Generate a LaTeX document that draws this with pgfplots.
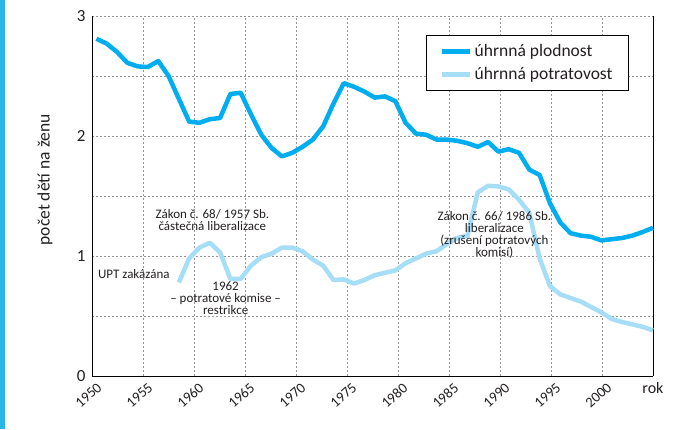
\documentclass[border=0pt]{standalone}
\usepackage{fontspec}
\setmainfont{Carlito}
\usepackage{pgfplots}
\usepackage{pgfplotstable}
\pgfplotsset{compat=1.18}
\definecolor{fert}{RGB}{0,174,239}
\definecolor{abor}{RGB}{166,221,247}
\definecolor{strip}{RGB}{41,182,230}
\definecolor{txt}{RGB}{35,31,32}
\definecolor{gridc}{RGB}{150,150,150}

\pgfplotstableread{
year val
1950 2.81
1951 2.77
1952 2.70
1953 2.61
1954 2.58
1955 2.575
1956 2.625
1957 2.50
1958 2.31
1959 2.12
1960 2.11
1961 2.14
1962 2.15
1963 2.35
1964 2.36
1965 2.18
1966 2.01
1967 1.90
1968 1.83
1969 1.86
1970 1.91
1971 1.97
1972 2.08
1973 2.27
1974 2.44
1975 2.41
1976 2.37
1977 2.32
1978 2.33
1979 2.29
1980 2.11
1981 2.02
1982 2.01
1983 1.97
1984 1.97
1985 1.96
1986 1.94
1987 1.91
1988 1.95
1989 1.87
1990 1.89
1991 1.86
1992 1.72
1993 1.675
1994 1.44
1995 1.28
1996 1.19
1997 1.17
1998 1.16
1999 1.13
2000 1.14
2001 1.15
2002 1.17
2003 1.20
2004 1.235
}\fertdata

\pgfplotstableread{
year val
1958 0.78
1959 0.98
1960 1.07
1961 1.11
1962 1.03
1963 0.81
1964 0.81
1965 0.92
1966 0.99
1967 1.02
1968 1.07
1969 1.07
1970 1.04
1971 0.97
1972 0.92
1973 0.80
1974 0.805
1975 0.77
1976 0.80
1977 0.84
1978 0.86
1979 0.88
1980 0.94
1981 0.98
1982 1.02
1983 1.04
1984 1.10
1985 1.15
1986 1.17
1987 1.53
1988 1.585
1989 1.58
1990 1.555
1991 1.47
1992 1.36
1993 0.98
1994 0.75
1995 0.68
1996 0.65
1997 0.62
1998 0.575
1999 0.53
2000 0.475
2001 0.45
2002 0.43
2003 0.41
2004 0.38
}\abordata

\begin{document}
\begin{tikzpicture}
\path[use as bounding box] (-92pt,-53pt) rectangle (608pt,376pt);
\fill[strip] (-92pt,-53pt) rectangle (-87pt,376pt);
\begin{axis}[
  at={(0pt,0pt)}, anchor=south west,
  scale only axis, width=561pt, height=360pt,
  xmin=1950, xmax=2005, ymin=0, ymax=3,
  clip=false,
  axis x line*=bottom, axis y line*=box,
  axis line style={line width=0.9pt, black},
  xtick={1950,1955,...,2000},
  ytick={0,1,2,3},
  minor ytick={0.5,1.5,2.5},
  grid=both,
  major grid style={gridc, line width=0.6pt, dash pattern=on 2pt off 2pt},
  minor grid style={gridc, line width=0.6pt, dash pattern=on 2pt off 2pt},
  major tick length=0pt, minor tick length=0pt,
  /pgf/number format/assume math mode=true,
  /pgf/number format/1000 sep={},
  yticklabel style={font=\fontsize{17}{17}\selectfont, text=txt, xshift=-3pt},
  xticklabel style={xshift=7.5pt, yshift=-9.5pt, rotate=42, anchor=east, inner sep=0pt, font=\fontsize{14.5}{14.5}\selectfont, text=txt},
  ylabel={počet dětí na ženu},
  ylabel style={at={(axis description cs:-0.084,0.545)}, anchor=center, font=\fontsize{17.5}{17.5}\selectfont, text=txt},
  legend style={at={(0.957,0.947)}, anchor=north east, draw=black, line width=0.7pt, fill=white,
    font=\fontsize{17.5}{19}\selectfont, text=txt, inner xsep=14pt, inner ysep=7pt, row sep=5.5pt,
    nodes={inner sep=2pt}},
  legend cell align=left,
  legend image code/.code={\draw[#1] (0pt,0pt) -- (28pt,0pt);},
]
\addplot[fert, line width=4.5pt, line join=round] table[x expr={1950.43+1.01056*(\thisrow{year}-1950)}, y=val] {\fertdata};
\addlegendentry{úhrnná plodnost}
\addplot[abor, line width=4.5pt, line join=round] table[x expr={1950.43+1.01056*(\thisrow{year}-1950)}, y=val] {\abordata};
\addlegendentry{úhrnná potratovost\hspace{11pt}}

\begin{scope}[every node/.style={text=txt, align=center, font=\fontsize{13}{12}\selectfont}]
\node at (axis cs:1961.8,1.30) {Zákon č. 68/ 1957 Sb.\\částečná liberalizace};
\node at (axis cs:1954.1,0.85) {UPT zakázána};
\node at (axis cs:1963.1,0.65) {1962\\– potratové komise –\\restrikce};
\node at (axis cs:1989.45,1.175) {Zákon č. 66/ 1986 Sb.\\liberalizace\\(zrušení potratových\\komisí)};
\node[font=\fontsize{16}{16}\selectfont, anchor=base, yshift=-17pt] at (axis cs:2005,0) {rok};
\end{scope}
\end{axis}
\end{tikzpicture}
\end{document}
